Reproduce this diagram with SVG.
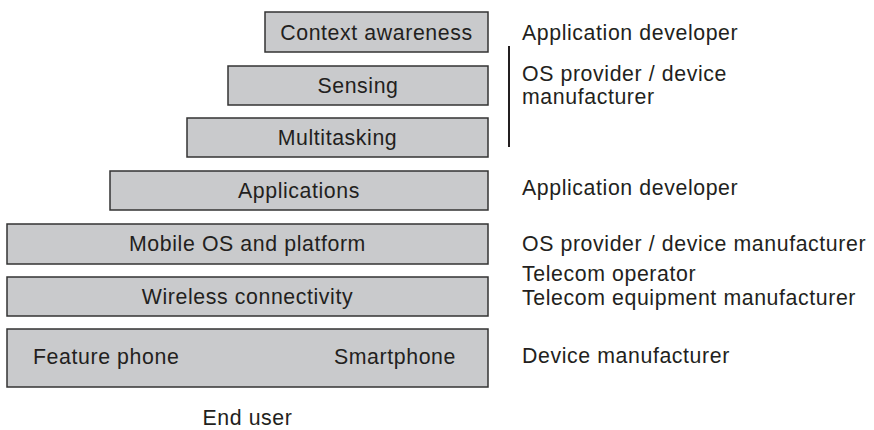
<svg xmlns="http://www.w3.org/2000/svg" width="874" height="430" viewBox="0 0 874 430">
<style>
.box{fill:#c9cacc;stroke:#333;stroke-width:1.5}
.t{font-family:"Liberation Sans",Arial,sans-serif;font-size:21.3px;fill:#231f20;letter-spacing:0.6px}
.c{text-anchor:middle}
</style>
<rect width="874" height="430" fill="#fff"/>
<g id="context"><rect class="box" x="265" y="12" width="223" height="40"/><text class="t c" x="376.5" y="40">Context awareness</text></g>
<g id="sensing"><rect class="box" x="228" y="66" width="260" height="39"/><text class="t c" x="358" y="93">Sensing</text></g>
<g id="multitasking"><rect class="box" x="187" y="118" width="301" height="39"/><text class="t c" x="337.5" y="145">Multitasking</text></g>
<g id="applications"><rect class="box" x="110" y="171" width="378" height="39"/><text class="t c" x="299" y="198">Applications</text></g>
<g id="mobileos"><rect class="box" x="7" y="224" width="481" height="40"/><text class="t c" x="247.5" y="251">Mobile OS and platform</text></g>
<g id="wireless"><rect class="box" x="7" y="277" width="481" height="39"/><text class="t c" x="247.5" y="304">Wireless connectivity</text></g>
<g id="device"><rect class="box" x="7" y="329" width="481" height="58"/><text class="t" x="33" y="364">Feature phone</text><text class="t" x="456" y="364" text-anchor="end">Smartphone</text></g>
<g id="enduser"><text class="t c" x="247.5" y="425">End user</text></g>
<g id="connectors"><line x1="509" y1="46" x2="509" y2="147" stroke="#231f20" stroke-width="2"/></g>
<g id="roles">
<text class="t" x="522" y="40">Application developer</text>
<text class="t" x="522" y="81">OS provider / device</text>
<text class="t" x="522" y="104">manufacturer</text>
<text class="t" x="522" y="195">Application developer</text>
<text class="t" x="522" y="251">OS provider / device manufacturer</text>
<text class="t" x="522" y="281">Telecom operator</text>
<text class="t" x="522" y="305">Telecom equipment manufacturer</text>
<text class="t" x="522" y="363">Device manufacturer</text>
</g>
</svg>
